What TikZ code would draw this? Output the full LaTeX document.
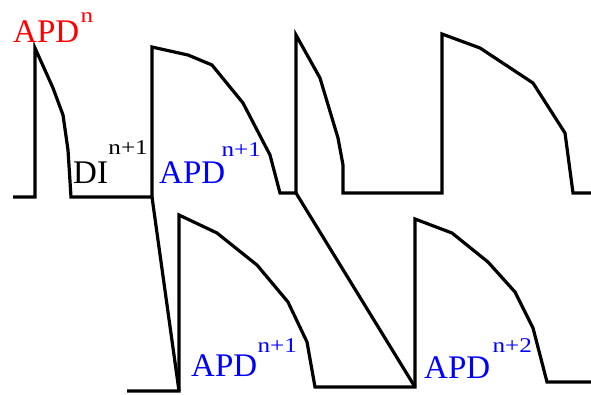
\documentclass[tikz,border=0pt]{standalone}
\usepackage{fontspec}
\setmainfont{Liberation Serif}
\usepackage{graphicx}
\usetikzlibrary{positioning}

\tikzset{
  trace/.style={line width=3.2pt},
  lbl/.style={inner sep=0pt, anchor=base west, font=\fontsize{33}{33}\selectfont},
  supx/.style={inner sep=0pt, anchor=base west, font=\fontsize{21}{21}\selectfont},
}
\newcommand{\wide}[1]{\scalebox{1.2}[1]{#1}}

\begin{document}
\begin{tikzpicture}[x=1pt, y=-1pt]
        \useasboundingbox (0,0) rectangle (591,394);

        % junctions
        \coordinate (j1) at (152,197);
        \coordinate (j2) at (296,193);
        \coordinate (k1) at (179,391);
        \coordinate (k2) at (415,387);

        % upper trace
        \draw[trace] (13,197) -- (35,197) -- (35,48) -- (53,88) -- (63,115) -- (68,150) -- (71,197)
            -- (j1) -- (152,47) -- (188,55) -- (212,65) -- (243,103) -- (270,155) -- (280,193)
            -- (j2) -- (296,35) -- (320,78) -- (338,138) -- (343,165) -- (343,193)
            -- (442,193) -- (442,34) -- (480,48) -- (533,83) -- (565,133) -- (573,193) -- (591,193);

        % lower trace
        \draw[trace] (127,391) -- (k1) -- (179,215) -- (217,233) -- (257,265) -- (288,302) -- (307,342) -- (315,387)
            -- (k2) -- (415,219) -- (452,233) -- (488,262) -- (515,292) -- (533,328) -- (547,382) -- (591,382);

        \draw[trace] (j1) -- (k1);
        \draw[trace] (j2) -- (k2);

        % labels
        \node[lbl, red] (apdN) at (13,42) {APD};
        \node[supx, red] (apdNsup) at ([shift={(1pt,20pt)}]apdN.base east) {\wide{n}};
        \node[lbl] (di) at (73,183) {DI};
        \node[supx] (disup) at ([shift={(0pt,29pt)}]di.base east) {\wide{n+1}};
        \node[lbl, blue] (apdA) at (159,183) {APD};
        \node[supx, blue] (apdAsup) at ([shift={(-4pt,27pt)}]apdA.base east) {\wide{n+1}};
        \node[lbl, blue] (apdB) at (191,376) {APD};
        \node[supx, blue] (apdBsup) at ([shift={(0pt,24pt)}]apdB.base east) {\wide{n+1}};
        \node[lbl, blue] (apdC) at (424,378) {APD};
        \node[supx, blue] (apdCsup) at ([shift={(2pt,26pt)}]apdC.base east) {\wide{n+2}};
\end{tikzpicture}
\end{document}
